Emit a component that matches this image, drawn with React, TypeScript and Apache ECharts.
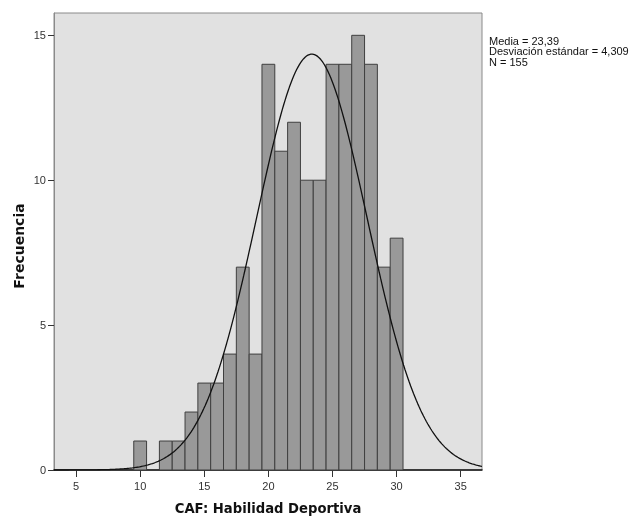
import React, { useEffect, useRef } from "react";
import * as echarts from "echarts";

// Histogram bins (integer scores) and their frequencies
const binCenters = [10, 11, 12, 13, 14, 15, 16, 17, 18, 19, 20, 21, 22, 23, 24, 25, 26, 27, 28, 29, 30];
const frequencies = [1, 0, 1, 1, 2, 3, 3, 4, 7, 4, 14, 11, 12, 10, 10, 14, 14, 15, 14, 7, 8];

// Summary statistics shown beside the plot
const mean = 23.39;
const stdDev = 4.309;
const sampleSize = 155;
const binWidth = 1;

const xTicks = [5, 10, 15, 20, 25, 30, 35];
const yTicks = [0, 5, 10, 15];
const xMin = 3.28;
const xMax = 36.66;
const yMax = 15.77;

const xTitle = "CAF: Habilidad Deportiva";
const yTitle = "Frecuencia";
const statsLines = [
  "Media = 23,39",
  "Desviación estándar = 4,309",
  "N = 155",
];

// Expected frequencies of a normal distribution with the same mean and SD
function normalCurve(): [number, number][] {
  const pts: [number, number][] = [];
  const steps = 300;
  for (let i = 0; i <= steps; i++) {
    const x = xMin + ((xMax - xMin) * i) / steps;
    const z = (x - mean) / stdDev;
    const y = (sampleSize * binWidth * Math.exp(-0.5 * z * z)) / (stdDev * Math.sqrt(2 * Math.PI));
    pts.push([x, y]);
  }
  return pts;
}

export default function App() {
  const ref = useRef<HTMLDivElement>(null);

  useEffect(() => {
    if (!ref.current) return;
    const chart = echarts.init(ref.current, null, { renderer: "svg" });
    const font = "Liberation Sans, Arial, sans-serif";
    const titleFont = "DejaVu Sans, Liberation Sans, sans-serif";

    chart.setOption({
      animation: false,
      textStyle: { fontFamily: font },
      grid: {
        left: 54,
        top: 13,
        width: 428,
        height: 457,
        outerBoundsMode: "none",
        containLabel: false,
        show: true,
        backgroundColor: "#e1e1e1",
        borderColor: "#8a8a8a",
        borderWidth: 1,
      },
      xAxis: {
        type: "value",
        min: xMin,
        max: xMax,
        name: xTitle,
        nameLocation: "middle",
        nameGap: 32,
        nameTextStyle: { fontFamily: titleFont, fontSize: 13.2, fontWeight: "bold", color: "#111" },
        splitLine: { show: false },
        axisLine: { show: true, lineStyle: { color: "#111", width: 1.5 } },
        axisTick: { show: true, customValues: xTicks, length: 7, lineStyle: { color: "#333" } },
        axisLabel: { customValues: xTicks, color: "#333", fontSize: 11, margin: 10, fontFamily: font },
      },
      yAxis: {
        type: "value",
        min: 0,
        max: yMax,
        splitLine: { show: false },
        axisLine: { show: true, lineStyle: { color: "#8a8a8a", width: 1 } },
        axisTick: { show: true, customValues: yTicks, length: 6, lineStyle: { color: "#333" } },
        axisLabel: { customValues: yTicks, color: "#333", fontSize: 11, margin: 8, fontFamily: font },
      },
      series: [
        {
          type: "custom",
          data: binCenters.map((c, i) => [c, frequencies[i]]),
          renderItem: (_params: any, api: any) => {
            const c = api.value(0);
            const f = api.value(1);
            if (!f) return null;
            const p0 = api.coord([c - binWidth / 2, 0]);
            const p1 = api.coord([c + binWidth / 2, f]);
            return {
              type: "rect",
              shape: { x: p0[0], y: p1[1], width: p1[0] - p0[0], height: p0[1] - p1[1] },
              style: { fill: "#999999", stroke: "#3f3f3f", lineWidth: 1 },
            };
          },
          z: 2,
        },
        {
          type: "line",
          data: normalCurve(),
          showSymbol: false,
          smooth: false,
          lineStyle: { color: "#111", width: 1.3 },
          z: 3,
        },
      ],
      graphic: [
        {
          type: "text",
          x: 18.5,
          y: 246,
          rotation: Math.PI / 2,
          style: {
            text: yTitle,
            fontFamily: titleFont,
            fontSize: 14,
            fontWeight: "bold",
            fill: "#111",
            align: "center",
            verticalAlign: "middle",
          },
        },
        {
          type: "text",
          left: 489,
          top: 35,
          style: {
            text: statsLines.join("\n"),
            fontFamily: font,
            fontSize: 11,
            lineHeight: 10.5,
            fill: "#111",
          },
        },
      ],
    });

    return () => chart.dispose();
  }, []);

  return (
    <div
      ref={ref}
      style={{ position: "fixed", left: 0, top: 0, width: 635, height: 517 }}
    />
  );
}
